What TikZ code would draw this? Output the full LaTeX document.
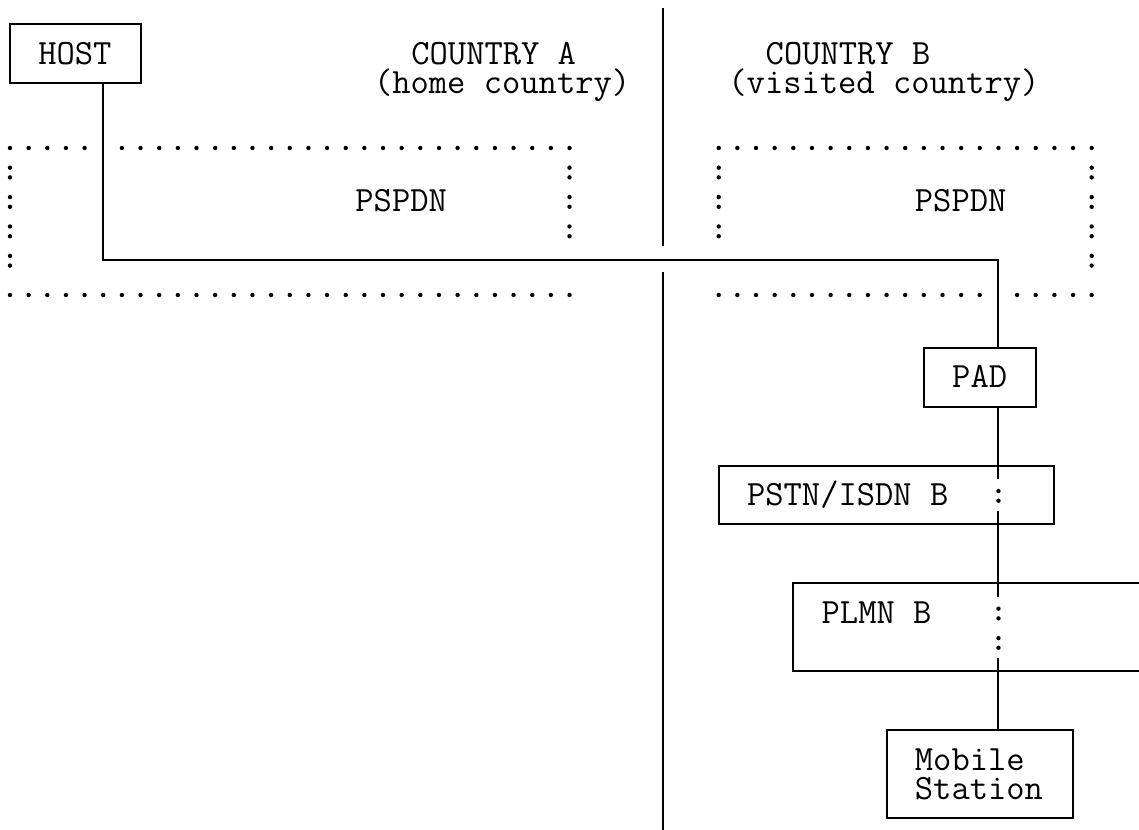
\documentclass[tikz,border=0pt]{standalone}
\usepackage{fontspec}
\usetikzlibrary{fit,calc}
\tikzset{
  box/.style={draw,line width=1pt,inner sep=0pt},
  wire/.style={line width=1pt},
  lbl/.style={anchor=base west,inner sep=0pt,
              font=\fontsize{17.76pt}{14.7pt}\selectfont\ttfamily},
}
\newcommand{\pdot}[2]{\fill (#1,#2+0.2) circle (1.1pt);}
\newcommand{\pcolon}[2]{\fill (#1,#2-0.13) circle (1.1pt); \fill (#1,#2+0.2) circle (1.1pt);}

\begin{document}
\begin{tikzpicture}[x=9.325pt,y=-14.7pt]
  \useasboundingbox (-0.536,0.167) rectangle (60.536,28.364);
  % boxes
  \node[box,fit={(0,1)(7,3)}] (host) {};
  \node[box,fit={(49,12)(55,14)}] (pad) {};
  \node[box,fit={(38,16)(56,18)}] (pstn) {};
  \node[box,fit={(42,20)(61,23)}] (plmn) {};
  \node[box,fit={(47,25)(57,28)}] (ms) {};
  % texts
  \node[lbl] (hostlbl) at (1.5,2.36) {HOST};
  \node[lbl] (cta) at (21.5,2.36) {COUNTRY A};
  \node[lbl] (ctahome) at (19.5,3.36) {(home country)};
  \node[lbl] (ctb) at (40.5,2.36) {COUNTRY B};
  \node[lbl] (ctbvis) at (38.5,3.36) {(visited country)};
  \node[lbl] (neta) at (18.5,7.36) {PSPDN};
  \node[lbl] (netb) at (48.5,7.36) {PSPDN};
  \node[lbl] (padlbl) at (50.5,13.36) {PAD};
  \node[lbl] (pstnlbl) at (39.5,17.36) {PSTN/ISDN B};
  \node[lbl] (plmnlbl) at (43.5,21.36) {PLMN B};
  \node[lbl] (mslbla) at (48.5,26.36) {Mobile};
  \node[lbl] (mslblb) at (48.5,27.36) {Station};

  % border between the countries
  \draw[wire] (35,0.45) -- (35,8.53);
  \draw[wire] (35,9.43) -- (35,28.4);

  % PSPDN, country A
  \foreach \c in {0,...,4} {\pdot{\c}{5}}
  \foreach \c in {6,...,30} {\pdot{\c}{5}}
  \foreach \c in {0,...,30} {\pdot{\c}{10}}
  \foreach \r in {6,...,9} {\pcolon{0}{\r}}
  \foreach \r in {6,7,8} {\pcolon{30}{\r}}
  % PSPDN, country B
  \foreach \c in {38,...,58} {\pdot{\c}{5}}
  \foreach \c in {38,...,52} {\pdot{\c}{10}}
  \foreach \c in {54,...,58} {\pdot{\c}{10}}
  \foreach \r in {6,7,8} {\pcolon{38}{\r}}
  \foreach \r in {6,...,9} {\pcolon{58}{\r}}

  % connection host -- mobile station
  \coordinate (benda) at (5,9);
  \coordinate (bendb) at (53,9);
  \draw[wire] (host.south -| benda) -- (benda) -- (bendb) -- (pad.north -| bendb);
  \draw[wire] (pad.south -| bendb) -- ($(pstn.north -| bendb)+(0,0.5)$);
  \pcolon{53}{17}
  \draw[wire] ($(pstn.south -| bendb)-(0,0.5)$) -- ($(plmn.north -| bendb)+(0,0.5)$);
  \pcolon{53}{21}
  \pcolon{53}{22}
  \draw[wire] ($(plmn.south -| bendb)-(0,0.5)$) -- (ms.north -| bendb);
\end{tikzpicture}
\end{document}
